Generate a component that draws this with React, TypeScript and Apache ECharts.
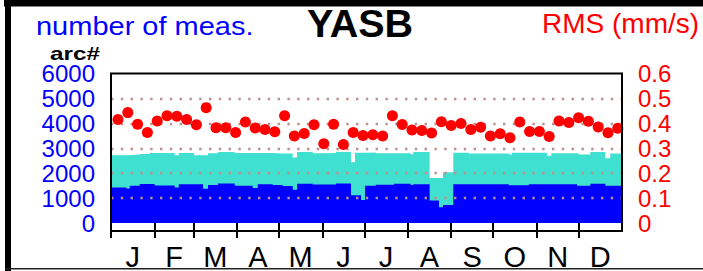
import React, { useEffect, useRef } from 'react';
import * as echarts from 'echarts';

// ---- axis / tick data ----
const monthLabels = ['J', 'F', 'M', 'A', 'M', 'J', 'J', 'A', 'S', 'O', 'N', 'D'];
const monthStartDay = [0, 31, 59, 90, 120, 151, 181, 212, 243, 273, 304, 334];
const monthMidDay = [15.5, 45, 74.5, 105, 135.5, 166, 196.5, 227.5, 258, 288.5, 319, 349.5];

// ---- number of measurements (step segments, day of year where each value starts) ----
const segStartDay = [0, 10.9, 13.4, 20.5, 27.6, 31.2, 45.5, 48.4, 59.3, 65.7, 69.3, 76.4, 88.4, 101.2, 104.8, 115.5, 122.6, 129.8, 132.9, 144.1, 150.7, 160.7, 171.4, 174.3, 178.6, 181.4, 189.1, 202.1, 214.1, 215.9, 227.6, 234.3, 237.1, 244.5, 255.7, 284.1, 286.4, 298.4, 311.4, 314.5, 332.9, 334.1, 342.4, 353.1, 356.6];
const arcsDark = [1420, 1380, 1490, 1570, 1570, 1510, 1420, 1560, 1560, 1370, 1530, 1590, 1490, 1400, 1560, 1530, 1480, 1330, 1580, 1550, 1550, 1590, 1110, 1110, 920, 1490, 1540, 1580, 1530, 1560, 900, 630, 720, 1560, 1560, 1520, 1520, 1560, 1560, 1560, 1490, 1490, 1580, 1490, 1490];
const arcsTotal = [2720, 2730, 2740, 2770, 2810, 2810, 2720, 2810, 2720, 2720, 2800, 2850, 2810, 2810, 2810, 2790, 2790, 2630, 2850, 2800, 2810, 2850, 2440, 2820, 2820, 2830, 2800, 2800, 2760, 2850, 1810, 1810, 2040, 2820, 2790, 2750, 2820, 2820, 2700, 2800, 2800, 2750, 2850, 2600, 2790];
const yearEndDay = 365;

// ---- weekly RMS (mm/s) ----
const firstWeekDay = 5;
const rmsValues = [
  0.415, 0.443, 0.396, 0.363, 0.409, 0.430, 0.428, 0.415, 0.394, 0.463, 0.382, 0.382, 0.363,
  0.405, 0.381, 0.375, 0.366, 0.430, 0.349, 0.359, 0.394, 0.318, 0.396, 0.315, 0.363, 0.351,
  0.354, 0.349, 0.430, 0.395, 0.373, 0.371, 0.361, 0.406, 0.391, 0.399, 0.375, 0.384, 0.349,
  0.358, 0.342, 0.405, 0.367, 0.367, 0.347, 0.409, 0.403, 0.422, 0.408, 0.385, 0.362, 0.380,
];
const gridLevels = [1000, 2000, 3000, 4000, 5000];

const FONT = '"Liberation Sans", Arial, sans-serif';

function stepData(values: number[]) {
  const d: number[][] = segStartDay.map((day, i) => [day, values[i]]);
  d.push([yearEndDay, values[values.length - 1]]);
  return d;
}

export default function App() {
  const ref = useRef<HTMLDivElement>(null);
  useEffect(() => {
    if (!ref.current) return;
    const chart = echarts.init(ref.current, null, { renderer: 'svg' });
    const G = { left: 111, top: 73.5, right: 81, bottom: 40 };
    chart.setOption({
      animation: false,
      backgroundColor: '#fff',
      grid: { left: G.left, top: G.top, right: G.right, bottom: G.bottom, show: false },
      xAxis: {
        type: 'value', min: 0, max: yearEndDay, position: 'bottom',
        axisLine: { show: false },
        splitLine: { show: false },
        axisTick: {
          show: true, inside: false, length: 15, customValues: monthStartDay,
          lineStyle: { color: '#000', width: 2 },
        },
        axisLabel: {
          show: true, customValues: monthMidDay, margin: 19,
          formatter: (v: number) => monthLabels[monthMidDay.indexOf(v)] ?? '',
          color: '#000', fontSize: 29, fontFamily: FONT,
        },
      },
      yAxis: [
        {
          type: 'value', min: 0, max: 6000, interval: 1000, position: 'left',
          axisLine: { show: false }, axisTick: { show: false }, splitLine: { show: false },
          axisLabel: { color: '#0000ff', fontSize: 24, fontFamily: FONT, margin: 16, formatter: (v: number) => String(v) },
        },
        {
          type: 'value', min: 0, max: 0.6, interval: 0.1, position: 'right',
          axisLine: { show: false }, axisTick: { show: false }, splitLine: { show: false },
          axisLabel: { color: '#ff0000', fontSize: 24, fontFamily: FONT, margin: 16, formatter: (v: number) => (v === 0 ? '0' : v.toFixed(1)) },
        },
      ],
      series: [
        {
          type: 'line', step: 'end', xAxisIndex: 0, yAxisIndex: 0, data: stepData(arcsTotal),
          symbol: 'none', lineStyle: { width: 0 }, areaStyle: { color: '#40e0d0', opacity: 1 }, z: 2,
        },
        {
          type: 'line', step: 'end', xAxisIndex: 0, yAxisIndex: 0, data: stepData(arcsDark),
          symbol: 'none', lineStyle: { width: 0 }, areaStyle: { color: '#0000ff', opacity: 1 }, z: 3,
          markLine: {
            silent: true, symbol: 'none', label: { show: false },
            lineStyle: { color: '#bc8f8f', width: 2.3, type: [2.4, 7.4], cap: 'butt', opacity: 1 },
            data: gridLevels.map((v) => ({ yAxis: v })),
          },
        },
        {
          type: 'scatter', xAxisIndex: 0, yAxisIndex: 1,
          data: rmsValues.map((v, i) => [firstWeekDay + 7 * i, v]),
          symbol: 'circle', symbolSize: 11, itemStyle: { color: '#ff0000', opacity: 1 }, z: 5,
        },
      ],
      graphic: [
        { type: 'rect', z: 100, shape: { x: 111, y: 73.5, width: 511, height: 157.5 }, style: { fill: 'none', stroke: '#000', lineWidth: 2 } },
        { type: 'rect', z: 100, shape: { x: 4, y: 0, width: 699, height: 6.5 }, style: { fill: '#000' } },
        { type: 'rect', z: 100, shape: { x: 5, y: 0, width: 6, height: 271 }, style: { fill: '#000' } },
        { type: 'rect', z: 100, shape: { x: 5, y: 268, width: 698, height: 1.6 }, style: { fill: '#222' } },
        { type: 'text', z: 100, x: 36, y: 26.3, scaleX: 1.16, style: { text: 'number of meas.', fill: '#0000ff', fontSize: 25, fontFamily: FONT, align: 'left', verticalAlign: 'middle' } },
        { type: 'text', z: 100, x: 307, y: 23.5, scaleX: 1.04, style: { text: 'YASB', fill: '#000', fontSize: 38, fontWeight: 'bold', fontFamily: FONT, align: 'left', verticalAlign: 'middle' } },
        { type: 'text', z: 100, x: 542, y: 23.6, style: { text: 'RMS (mm/s)', fill: '#ff0000', fontSize: 28, fontFamily: FONT, align: 'left', verticalAlign: 'middle' } },
        { type: 'text', z: 100, x: 50, y: 53.4, scaleX: 1.28, style: { text: 'arc#', fill: '#000', fontSize: 19, fontWeight: 'bold', fontFamily: FONT, align: 'left', verticalAlign: 'middle' } },
      ],
    });
    return () => chart.dispose();
  }, []);
  return <div ref={ref} style={{ position: 'fixed', left: 0, top: 0, width: 703, height: 271 }} />;
}
